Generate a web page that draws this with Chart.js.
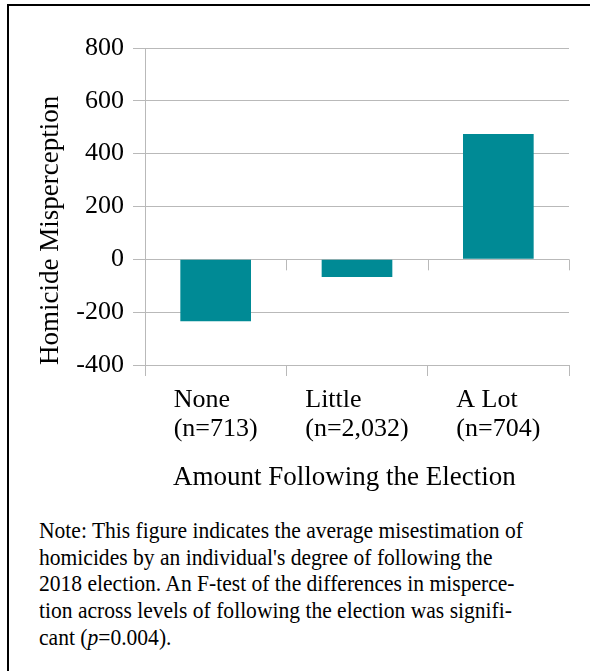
<!DOCTYPE html>
<html>
<head>
<meta charset="utf-8">
<title>Homicide Misperception by Amount Following the Election</title>
<script src="https://cdn.jsdelivr.net/npm/chart.js@4.4.1/dist/chart.umd.min.js"></script>
<style>
    html, body { margin: 0; padding: 0; background: #FFFFFF; }
    body { width: 590px; height: 671px; position: relative; overflow: hidden; }
    #frame {
        position: absolute; left: 7px; top: 4px; width: 640px; height: 720px;
        border-left: 2px solid #000000; border-top: 2px solid #000000;
    }
    #chart { position: absolute; left: 0; top: 0; }
    #note {
        position: absolute; left: 39px; top: 518px; width: 570px;
        font-family: 'Liberation Serif', 'Times New Roman', serif;
        font-size: 22.5px; line-height: 26.7px; color: #000000;
        white-space: nowrap;
        transform: scaleX(0.958); transform-origin: 0 0;
    }
</style>
</head>
<body>
<div id="frame"></div>
<canvas id="chart" width="590" height="505"></canvas>
<div id="note">Note: This figure indicates the average misestimation of<br>homicides by an individual's degree of following the<br>2018 election. An F-test of the differences in misperce-<br>tion across levels of following the election was signifi-<br>cant (<i>p</i>=0.004).</div>

<script>
/* Homicide misperception by how closely people followed the 2018 election */

const categories = [['None', '(n=713)'], ['Little', '(n=2,032)'], ['A Lot', '(n=704)']];
const misperception = [-234, -67, 474];
const yTicks = [-400, -200, 0, 200, 400, 600, 800];
const xTitle = 'Amount Following the Election';
const yTitle = 'Homicide Misperception';

const SERIF = "'Liberation Serif', 'Times New Roman', serif";
const GRID = '#B9B9B9';

Chart.defaults.font.family = SERIF;
Chart.defaults.color = '#000000';

// category labels: lines left-aligned, block centred under each bar; plus the x title
const xLabelsPlugin = {
    id: 'xLabels',
    afterDraw(chart) {
        const { ctx, chartArea } = chart;
        const x = chart.scales.x;
        const y = chart.scales.y;
        ctx.save();

        // small ticks hanging from the zero line at category boundaries
        const y0 = y.getPixelForValue(0);
        ctx.strokeStyle = GRID;
        ctx.lineWidth = 1;
        for (let i = 0; i <= categories.length; i++) {
            let px;
            if (i === 0) px = chartArea.left;
            else if (i === categories.length) px = chartArea.right;
            else px = (x.getPixelForValue(i - 1) + x.getPixelForValue(i)) / 2;
            ctx.beginPath();
            ctx.moveTo(Math.round(px) + 0.5, y0);
            ctx.lineTo(Math.round(px) + 0.5, y0 + 11);
            ctx.stroke();
        }

        ctx.fillStyle = '#000000';
        ctx.font = '26px ' + SERIF;
        ctx.textAlign = 'left';
        ctx.textBaseline = 'alphabetic';
        categories.forEach((lines, i) => {
            const cx = x.getPixelForValue(i);
            const w = Math.max(...lines.map(l => ctx.measureText(l).width));
            lines.forEach((line, j) => {
                ctx.fillText(line, cx - w / 2, chartArea.bottom + 42 + j * 28.5);
            });
        });

        ctx.font = '27px ' + SERIF;
        ctx.fillText(xTitle, chartArea.left + 28, chartArea.bottom + 120);
        ctx.restore();
    }
};

new Chart(document.getElementById('chart'), {
    type: 'bar',
    data: {
        labels: categories,
        datasets: [{
            label: 'Homicide Misperception',
            data: misperception,
            backgroundColor: '#008A95',
            borderWidth: 0,
            barPercentage: 0.5,
            categoryPercentage: 1.0
        }]
    },
    options: {
        responsive: false,
        animation: false,
        layout: { padding: { left: 0, top: 48, right: 21, bottom: 0 } },
        scales: {
            x: {
                offset: true,
                grid: {
                    offset: true,
                    drawOnChartArea: true,
                    color: (c) => (c.index === 0 || c.index === categories.length) ? GRID : 'rgba(0,0,0,0)',
                    tickColor: GRID,
                    tickLength: 11,
                    lineWidth: 1
                },
                border: { display: false },
                ticks: { display: false },
                afterFit: (scale) => { scale.height = 505 - 365; }
            },
            y: {
                min: -400,
                max: 800,
                afterBuildTicks: (scale) => { scale.ticks = yTicks.map(v => ({ value: v })); },
                grid: { color: GRID, tickColor: GRID, tickLength: 12, lineWidth: 1 },
                border: { display: true, color: GRID },
                ticks: {
                    color: '#000000',
                    padding: 9,
                    font: { family: SERIF, size: 26 }
                },
                title: {
                    display: true,
                    text: yTitle,
                    align: 'start',
                    color: '#000000',
                    font: { family: SERIF, size: 27 },
                    padding: { top: 35, bottom: 0 }
                },
                afterFit: (scale) => { scale.width = 145; }
            }
        },
        plugins: {
            legend: { display: false },
            tooltip: { enabled: false }
        }
    },
    plugins: [xLabelsPlugin]
});
</script>
</body>
</html>
